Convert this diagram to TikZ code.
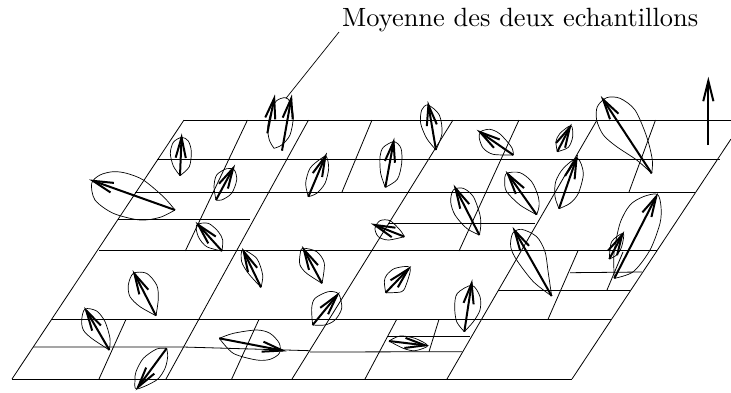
\documentclass[tikz,border=0pt]{standalone}
\usepackage{graphicx}
\usetikzlibrary{calc}
\tikzset{
 grid/.style={line width=0.8pt,line cap=butt},
 leaf/.style={line width=0.7pt,line join=round},
 arr/.style={line width=2pt,line join=miter,line cap=butt},
 z1/.style={x=0.33333pt,y=-0.33333pt,shift={(0pt,-60pt)}},
 z2/.style={x=0.33333pt,y=-0.33333pt,shift={(360pt,-60pt)}},
 z3/.style={x=0.33333pt,y=-0.33333pt,shift={(0pt,-225pt)}},
 z4/.style={x=0.33333pt,y=-0.33333pt,shift={(360pt,-210pt)}},
}
\newcommand{\lf}[1]{\draw[leaf] plot[smooth,tension=0.5] coordinates {#1};}
\newcommand{\arw}[2]{\coordinate (s) at #1;\coordinate (t) at ($#2!2.5pt!#1$);
 \draw[arr] (s) -- (t);
 \draw[arr] ($(t)!21pt!14:(s)$) -- (t) -- ($(t)!21pt!-14:(s)$);}
\begin{document}
\begin{tikzpicture}[x=1pt,y=-1pt]
\useasboundingbox (0,0) rectangle (731,392);
% horizontal lines
\draw[grid] (184,120) -- (731,120);
\draw[grid] (157,159.7) -- (720,159.7);
\draw[grid] (135,192) -- (695,192);
\draw[grid] (118,219.7) -- (250,219.7);
\draw[grid] (388,223) -- (535,223);
\draw[grid] (99,250.7) -- (657,250.7);
\draw[grid] (570,272.7) -- (642,272);
\draw[grid] (498,290) -- (630,290);
\draw[grid] (51,319.3) -- (611,319.3);
\draw[grid] (33,347) -- (183,347) -- (310,350.7);
\draw[grid] (310,352) -- (462,351.7);
\draw[grid] (387,336.7) -- (470,336.7);
\draw[grid] (12,379) -- (572,379);
% slanted lines
\draw[grid] (184,120) -- (12,379);
\draw[grid] (247.5,120) -- (185.3,251);
\draw[grid] (308.5,120) -- (166,379);
\draw[grid] (372,120) -- (342,192);
\draw[grid] (453,120) -- (292,379);
\draw[grid] (519,120) -- (459,251);
\draw[grid] (597,120) -- (447,379);
\draw[grid] (655.5,120) -- (629,192);
\draw[grid] (731,139) -- (572,379);
\draw[grid] (126,319.3) -- (99,379);
\draw[grid] (259,319.3) -- (231.7,379);
\draw[grid] (396.7,319.3) -- (365,379);
\draw[grid] (439,319.3) -- (429,351.7);
\draw[grid] (578,250.7) -- (548,319.3);
\draw[grid] (623,252) -- (607,290);
% label and leader
\coordinate (lead) at (339,32);
\coordinate (leafend) at (286,98.3);
\draw[leaf] (lead) -- (leafend);
\node[anchor=base west,inner sep=0pt] (lab) at (342,26) {\scalebox{2.64}{Moyenne des deux echantillons}};
% zoom 1
\begin{scope}[z1]
\lf{(822,265)(808,240)(803,200)(815,150)(830,122)(855,113)(870,125)(880,170)(870,225)(845,255)(822,265)}
\arw{(802,220)}{(824,108)}
\arw{(846,272)}{(875,108)}
\lf{(540,347)(520,318)(511,280)(520,247)(545,232)(565,243)(574,275)(568,320)(540,347)}
\arw{(540,347)}{(545,225)}
\lf{(648,420)(642,380)(650,345)(680,326)(703,330)(710,360)(695,400)(665,420)(648,420)}
\arw{(648,420)}{(703,318)}
\lf{(925,410)(917,370)(930,325)(960,298)(979,290)(986,325)(975,370)(950,400)(925,410)}
\arw{(925,410)}{(979,282)}
\lf{(525,450)(490,410)(430,360)(380,340)(340,335)(300,345)(275,370)(285,420)(340,460)(420,480)(480,472)(525,450)}
\arw{(525,450)}{(272,360)}
\end{scope}
% zoom 2
\begin{scope}[z2]
\lf{(228,270)(200,235)(182,190)(185,150)(204,135)(238,165)(246,220)(228,270)}
\arw{(228,270)}{(204,128)}
\lf{(76,382)(62,340)(60,290)(70,262)(102,245)(123,265)(125,310)(112,358)(76,382)}
\arw{(76,382)}{(102,238)}
\lf{(460,285)(400,283)(370,265)(358,235)(362,215)(390,208)(420,222)(455,262)(460,285)}
\arw{(460,285)}{(354,212)}
\lf{(592,275)(588,245)(600,220)(633,197)(638,230)(625,262)(592,275)}
\arw{(592,275)}{(633,195)}
\lf{(597,446)(585,410)(587,365)(610,325)(652,295)(670,340)(655,400)(630,430)(597,446)}
\arw{(597,446)}{(652,288)}
\lf{(530,464)(480,435)(440,395)(434,365)(440,340)(480,338)(515,365)(535,410)(537,440)(530,464)}
\arw{(530,464)}{(440,337)}
\lf{(875,340)(830,300)(770,260)(730,225)(710,180)(712,140)(740,113)(780,115)(825,150)(860,230)(877,300)(875,340)}
\arw{(875,340)}{(725,112)}
\arw{(1045,255)}{(1045,55)}
\lf{(358,525)(320,505)(285,465)(272,425)(280,390)(310,385)(340,410)(360,465)(362,500)(358,525)}
\arw{(358,525)}{(283,378)}
\end{scope}
% zoom 4
\begin{scope}[z4]
\lf{(763,205)(762,130)(780,40)(810,-15)(850,-40)(892,-47)(903,-10)(900,40)(870,120)(820,185)(763,205)}
\arw{(763,205)}{(892,-47)}
\lf{(748,147)(755,95)(790,70)(785,110)(770,135)(748,147)}
\arw{(748,147)}{(790,68)}
\lf{(133,80)(85,90)(55,80)(45,55)(60,32)(90,32)(120,60)(133,80)}
\arw{(133,80)}{(37,42)}
\lf{(575,258)(520,215)(470,150)(452,110)(458,70)(485,58)(530,80)(555,125)(565,190)(575,258)}
\arw{(575,258)}{(460,55)}
\lf{(77,248)(125,245)(140,220)(150,172)(105,175)(80,195)(73,215)(77,248)}
\arw{(77,248)}{(150,172)}
\lf{(313,365)(290,335)(284,290)(292,250)(336,226)(360,260)(360,300)(340,335)(313,365)}
\arw{(313,365)}{(336,213)}
\lf{(87,393)(120,378)(165,385)(203,407)(165,422)(130,415)(87,393)}
\arw{(87,393)}{(203,407)}
\end{scope}
% zoom 3
\begin{scope}[z3]
\lf{(666,78)(620,65)(595,35)(590,0)(625,-5)(655,20)(668,45)(666,78)}
\arw{(666,78)}{(590,-6)}
\lf{(783,187)(745,145)(725,110)(728,75)(770,100)(788,150)(783,187)}
\arw{(783,187)}{(728,73)}
\lf{(966,175)(920,145)(900,120)(900,90)(908,70)(950,80)(973,115)(966,175)}
\arw{(966,175)}{(908,67)}
\lf{(468,272)(420,245)(390,215)(385,180)(400,145)(440,145)(470,180)(475,220)(468,272)}
\arw{(468,272)}{(400,140)}
\lf{(328,375)(275,340)(250,315)(245,285)(255,252)(290,258)(315,290)(330,340)(328,375)}
\arw{(328,375)}{(255,250)}
\lf{(938,300)(935,250)(945,220)(985,200)(1016,207)(1025,250)(1005,285)(975,300)(938,300)}
\arw{(938,300)}{(1016,205)}
\lf{(500,370)(470,372)(430,400)(408,440)(405,465)(410,492)(470,465)(495,430)(503,395)(500,370)}
\arw{(500,370)}{(410,492)}
\lf{(658,340)(700,325)(770,315)(810,325)(838,355)(838,385)(810,403)(770,405)(700,385)(658,340)}
\arw{(658,340)}{(855,378)}
\end{scope}
\end{tikzpicture}
\end{document}
